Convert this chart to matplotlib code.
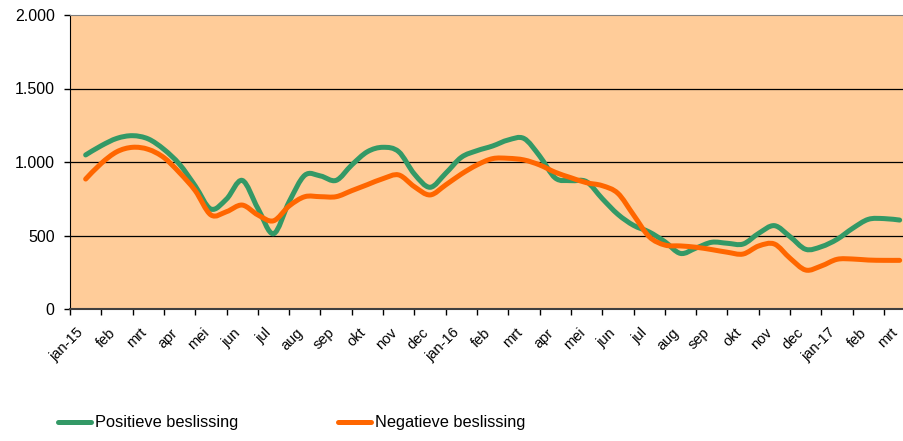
import numpy as np
import matplotlib
matplotlib.use("Agg")
import matplotlib.pyplot as plt
from matplotlib.path import Path
from matplotlib.patches import PathPatch
from matplotlib.lines import Line2D
from matplotlib.ticker import FuncFormatter, FixedLocator
from matplotlib.transforms import ScaledTranslation

plt.rcParams['font.family'] = ['Liberation Sans', 'DejaVu Sans']

month_labels = ["jan-15", "feb", "mrt", "apr", "mei", "jun", "jul", "aug", "sep", "okt", "nov", "dec",
                "jan-16", "feb", "mrt", "apr", "mei", "jun", "jul", "aug", "sep", "okt", "nov", "dec",
                "jan-17", "feb", "mrt"]

# half-month readings (index k -> month k/2)
positieve = [1048, 1111, 1161, 1179, 1157, 1086, 984, 837, 680, 748, 875, 685, 512, 730,
             910, 905, 875, 980, 1070, 1100, 1070, 918, 828, 923, 1032, 1077, 1109, 1150,
             1160, 1041, 891, 873, 866, 751, 644, 569, 524, 458, 378, 415, 454, 447, 442,
             515, 567, 492, 406, 424, 474, 549, 610, 615, 605]
negatieve = [884, 991, 1070, 1100, 1086, 1030, 927, 805, 640, 662, 707, 640, 600, 701,
             764, 764, 764, 805, 846, 887, 912, 832, 776, 844, 918, 980, 1023, 1025,
             1014, 980, 930, 893, 859, 839, 787, 640, 492, 435, 429, 420, 404, 386, 374,
             429, 442, 345, 265, 293, 338, 340, 333, 331, 331]

series_names = ["Positieve beslissing", "Negatieve beslissing"]
colors = ["#339966", "#FF6600"]

W, H = 904, 441
fig = plt.figure(figsize=(W / 100, H / 100), dpi=100)
left, right, top, bottom = 70, 915.3, 15, 309
ax = fig.add_axes([left / W, 1 - bottom / H, (right - left) / W, (bottom - top) / H])
ax.set_facecolor("#FFCC99")

n_months = len(month_labels)
ax.set_xlim(-0.5, n_months - 0.5)
ax.set_ylim(0, 2000)


def smooth_path(xs, ys):
    pts = np.column_stack([xs, ys]).astype(float)
    n = len(pts)
    verts = [pts[0]]
    codes = [Path.MOVETO]
    for i in range(n - 1):
        p0 = pts[i - 1] if i > 0 else pts[i]
        p1 = pts[i]
        p2 = pts[i + 1]
        p3 = pts[i + 2] if i + 2 < n else pts[i + 1]
        c1 = p1 + (p2 - p0) / 6.0
        c2 = p2 - (p3 - p1) / 6.0
        verts += [c1, c2, p2]
        codes += [Path.CURVE4] * 3
    return Path(verts, codes)


for vals, col in zip([positieve, negatieve], colors):
    xs = np.arange(len(vals)) / 2.0
    patch = PathPatch(smooth_path(xs, vals), facecolor="none", edgecolor=col, lw=3.6,
                      capstyle="round", joinstyle="round", zorder=3)
    ax.add_patch(patch)

# grid
for yv in [500, 1000, 1500]:
    ax.axhline(yv, color="black", lw=0.9, zorder=1)

ax.yaxis.set_major_locator(FixedLocator([0, 500, 1000, 1500, 2000]))
ax.yaxis.set_major_formatter(FuncFormatter(lambda v, p: f"{int(v):,}".replace(",", ".")))
ax.tick_params(axis="y", length=4, width=1, pad=7, labelsize=11.5, colors="black")

ax.xaxis.set_major_locator(FixedLocator(np.arange(n_months + 1) - 0.5))
ax.xaxis.set_minor_locator(FixedLocator(np.arange(n_months)))
ax.tick_params(axis="x", which="major", length=4, width=1, labelbottom=False, color="black")
ax.tick_params(axis="x", which="minor", length=0, pad=12, labelsize=10.5)
ax.set_xticklabels(month_labels, minor=True, rotation=45, ha="right", rotation_mode="anchor")
off = ScaledTranslation(-0.09, 0, fig.dpi_scale_trans)
for lab in ax.get_xticklabels(minor=True):
    lab.set_transform(lab.get_transform() + off)

ax.spines["left"].set_color("black")
ax.spines["bottom"].set_color("#404040")
ax.spines["bottom"].set_linewidth(1.5)
ax.spines["top"].set_color("#808080")
ax.spines["right"].set_visible(False)

handles = [Line2D([], [], color=c, lw=3.6, solid_capstyle="round") for c in colors]
fig.legend(handles, series_names, loc="center left", bbox_to_anchor=(58 / W, 1 - 423 / H),
           ncol=2, frameon=False, borderpad=0, borderaxespad=0, handlelength=2.0,
           handletextpad=0.25, columnspacing=6.1, fontsize=11.8)

fig.savefig("out.png", dpi=100)
